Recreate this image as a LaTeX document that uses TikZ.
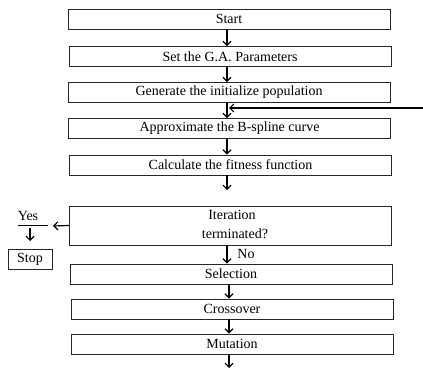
\documentclass[tikz,border=0pt]{standalone}
\usepackage{fontspec}
\setmainfont{Liberation Serif}
\usetikzlibrary{arrows.meta}
\begin{document}
\begin{tikzpicture}[x=1pt,y=-1pt,
  box/.style={draw=black!85,line width=0.9pt,minimum width=322pt,minimum height=20pt,inner sep=0pt,font=\fontsize{14}{15}\selectfont},
  arr/.style={line width=1.2pt,-{Straight Barb[length=4pt,width=8pt,line width=1.2pt]}},
  lbl/.style={font=\fontsize{14}{15}\selectfont,inner sep=0pt}]
\useasboundingbox (0,0) rectangle (423,374);
\node[box] (start) at (229,19) {Start};
\node[box] (set) at (230,56.5) {Set the G.A. Parameters};
\node[box] (gen) at (229,92.5) {Generate the initialize population};
\node[box] (approx) at (229.5,128.5) {Approximate the B-spline curve};
\node[box] (calc) at (230.5,165) {Calculate the fitness function};
\node[box,minimum height=39pt] (iter) at (230.5,225.5) {};
\node[lbl] (itert1) at (232,215) {Iteration};
\node[lbl] (itert2) at (235,234) {terminated?};
\node[box] (sel) at (231,274) {Selection};
\node[box] (cross) at (232,309) {Crossover};
\node[box] (mut) at (232,344) {Mutation};
\node[draw=black!85,line width=0.9pt,minimum width=44pt,minimum height=20pt,inner sep=0pt,font=\fontsize{14}{15}\selectfont] (stop) at (30,259) {Stop};
\node[lbl] (yes) at (28,216) {Yes};
\node[lbl] (no) at (246,254) {No};
\coordinate (calcend) at (227,190);
\coordinate (fbstart) at (423,108);
\coordinate (fbend) at (229,108);
\coordinate (yesend) at (53,226);
\coordinate (yl1) at (18,225);
\coordinate (yl2) at (48,225);
\coordinate (ysdown) at (30,228);
\coordinate (ysend) at (30,241);
\coordinate (mutend) at (229,368);
\draw[arr] (start.south -| 227,0) -- (set.north -| 227,0);
\draw[arr] (set.south -| 227,0) -- (gen.north -| 227,0);
\draw[arr] (gen.south -| 227,0) -- (approx.north -| 227,0);
\draw[arr] (fbstart) -- (fbend);
\draw[arr] (approx.south -| 227,0) -- (calc.north -| 227,0);
\draw[arr] (calc.south -| 227,0) -- (calcend);
\draw[arr] (iter.west) -- (yesend);
\draw[line width=0.9pt] (yl1) -- (yl2);
\draw[arr] (ysdown) -- (ysend);
\draw[arr] (iter.south -| 227,0) -- (sel.north -| 227,0);
\draw[arr] (sel.south -| 229,0) -- (cross.north -| 229,0);
\draw[arr] (cross.south -| 229,0) -- (mut.north -| 229,0);
\draw[arr] (mut.south -| 229,0) -- (mutend);
\end{tikzpicture}
\end{document}
